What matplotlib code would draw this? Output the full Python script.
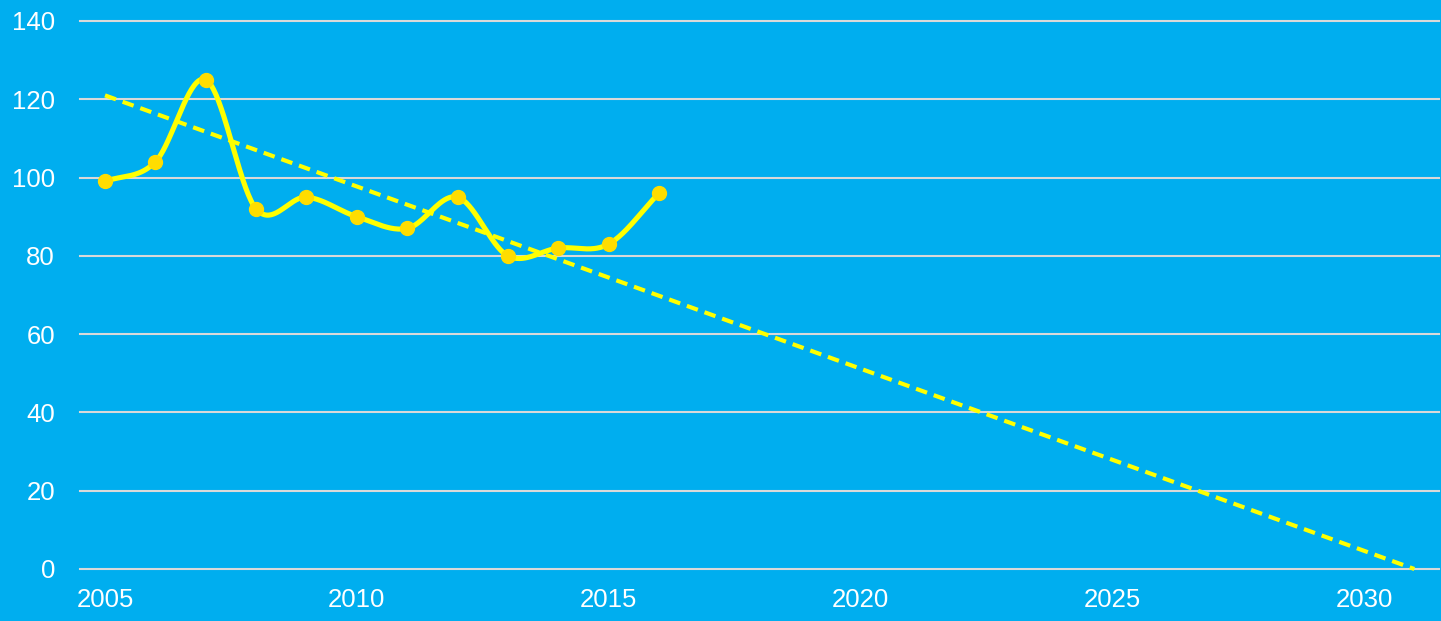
import numpy as np
import matplotlib
matplotlib.use("Agg")
import matplotlib.pyplot as plt

years = [2005, 2006, 2007, 2008, 2009, 2010, 2011, 2012, 2013, 2014, 2015, 2016]
values = [99, 104, 125, 92, 95, 90, 87, 95, 80, 82, 83, 96]
trend_years = [2005, 2031]
trend_values = [121, 0]
xticks = [2005, 2010, 2015, 2020, 2025, 2030]
yticks = [0, 20, 40, 60, 80, 100, 120, 140]

BG = "#00AEEF"

def catmull_rom(x, y, n=40):
    x = np.asarray(x, float); y = np.asarray(y, float)
    px = np.concatenate([[2*x[0]-x[1]], x, [2*x[-1]-x[-2]]])
    py = np.concatenate([[2*y[0]-y[1]], y, [2*y[-1]-y[-2]]])
    xs, ys = [], []
    for i in range(1, len(px)-2):
        p0, p1, p2, p3 = [np.array([px[j], py[j]]) for j in range(i-1, i+3)]
        c1 = p1 + (p2 - p0) / 6.0
        c2 = p2 - (p3 - p1) / 6.0
        t = np.linspace(0, 1, n)[:, None]
        b = (1-t)**3*p1 + 3*(1-t)**2*t*c1 + 3*(1-t)*t**2*c2 + t**3*p2
        xs.append(b[:, 0]); ys.append(b[:, 1])
    return np.concatenate(xs), np.concatenate(ys)

W, H = 1441, 621
fig = plt.figure(figsize=(W/100, H/100), dpi=100)
fig.patch.set_facecolor(BG)

left_px, right_px = 80, 1439
top_px, bot_px = 21, 569
ax = fig.add_axes([left_px/W, (H-bot_px)/H, (right_px-left_px)/W, (bot_px-top_px)/H])
ax.set_facecolor(BG)

pxyr = (1364-105)/25.0
ax.set_xlim(2005 - (105-left_px)/pxyr, 2005 + (right_px-105)/pxyr)
ax.set_ylim(0, 140)

ax.set_yticks(yticks)
ax.set_xticks(xticks)
ax.grid(axis="y", color="#D9D9D9", linewidth=1.5)
for gl in ax.get_ygridlines():
    gl.set_clip_on(False)
ax.grid(axis="x", visible=False)
for s in ax.spines.values():
    s.set_visible(False)
ax.tick_params(axis="both", length=0, colors="white", labelsize=18.5,
               labelfontfamily="Liberation Sans")
ax.tick_params(axis="y", pad=18)
ax.tick_params(axis="x", pad=14)

sx, sy = catmull_rom(years, values)
ax.plot(sx, sy, color="#FFFF00", linewidth=3.7, solid_capstyle="round",
        solid_joinstyle="round", zorder=3)
ax.plot(years, values, linestyle="none", marker="o", markersize=10,
        markerfacecolor="#FFDD00", markeredgecolor="#FFDD00", zorder=4)
ax.plot(trend_years, trend_values, color="#FFFF00", linewidth=3.0,
        linestyle=(0, (2.8, 1.7)), zorder=2, clip_on=False)

fig.savefig("out.png", dpi=100, facecolor=BG)
